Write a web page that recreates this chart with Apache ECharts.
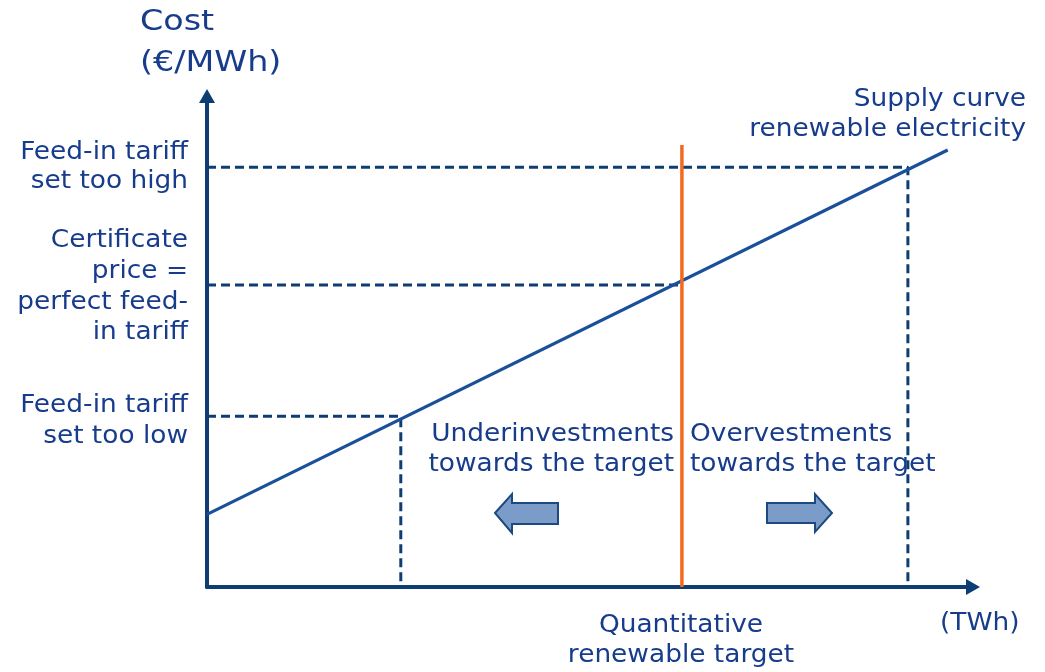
<!DOCTYPE html>
<html lang="en">
<head>
<meta charset="UTF-8">
<title>Supply curve renewable electricity</title>
<style>
  html, body { margin: 0; padding: 0; background: #fff; }
  #chart { width: 1045px; height: 672px; }
</style>
</head>
<body>
<div id="chart"></div>
<script src="https://cdn.jsdelivr.net/npm/echarts@6/dist/echarts.min.js"></script>
<script>
// values (x = quantity TWh, y = cost, both on a 0..100 scale)
var supplyX = [0, 96.7];
var supplyY = [14.8, 89.0];
var targetQ = 62;      // quantitative renewable target
var lowQ = 25.3;       // quantity reached with too-low tariff
var highQ = 91.5;      // quantity reached with too-high tariff
var lowP = 34.8;       // feed-in tariff set too low
var fairP = 61.5;      // certificate price = perfect feed-in tariff
var highP = 85.5;      // feed-in tariff set too high
var targetTop = 90;

var navy = '#0e3d73';
var textColor = '#173c8c';
var font = '24px "DejaVu Sans"';

var chart = echarts.init(document.getElementById('chart'));

function label(x, y, text, align, extra, sx) {
  var o = {
    type: 'text',
    x: x,
    y: y,
    scaleX: sx || 1.1,
    silent: true,
    style: {
      text: text,
      font: font,
      fill: textColor,
      align: align,
      verticalAlign: 'middle',
      lineHeight: 30
    }
  };
  if (extra) {
    for (var k in extra) o.style[k] = extra[k];
  }
  return o;
}

function dashed(data) {
  return {
    type: 'line',
    data: data,
    symbol: 'none',
    silent: true,
    z: 1,
    lineStyle: { color: navy, width: 3, type: [9, 5] }
  };
}

var arrowFill = '#7b9cc8';
var arrowStroke = '#1b4a80';

var option = {
  animation: false,
  grid: { left: 207, top: 96, width: 766, height: 491 },
  xAxis: {
    type: 'value', min: 0, max: 100,
    axisLabel: { show: false }, axisTick: { show: false }, splitLine: { show: false },
    axisLine: {
      onZero: false,
      symbol: ['none', 'triangle'], symbolSize: [16, 14],
      lineStyle: { color: navy, width: 4 }
    }
  },
  yAxis: {
    type: 'value', min: 0, max: 100,
    axisLabel: { show: false }, axisTick: { show: false }, splitLine: { show: false },
    axisLine: {
      show: true, onZero: false,
      symbol: ['none', 'triangle'], symbolSize: [16, 14],
      lineStyle: { color: navy, width: 4 }
    }
  },
  series: [
    dashed([[0, highP], [highQ, highP], [highQ, 0]]),
    dashed([[0, fairP], [targetQ, fairP]]),
    dashed([[0, lowP], [lowQ, lowP], [lowQ, 0]]),
    {
      type: 'line',
      data: supplyX.map(function (x, i) { return [x, supplyY[i]]; }),
      symbol: 'none',
      silent: true,
      z: 2,
      lineStyle: { color: '#1a4f9a', width: 3.2 }
    },
    {
      type: 'line',
      data: [[targetQ, 0], [targetQ, targetTop]],
      symbol: 'none',
      silent: true,
      z: 3,
      lineStyle: { color: '#f26a1e', width: 3.5 }
    }
  ],
  graphic: [
    label(140, 43, 'Cost\n(€/MWh)', 'left', { font: '29px "DejaVu Sans"', lineHeight: 41 }, 1.15),
    label(188, 167.5, 'Feed-in tariff\nset too high', 'right', { lineHeight: 29 }),
    label(188, 287, 'Certificate\nprice =\nperfect feed-\nin tariff', 'right', { lineHeight: 30.7 }),
    label(188, 421, 'Feed-in tariff\nset too low', 'right', { lineHeight: 31 }),
    label(1026, 115, 'Supply curve\nrenewable electricity', 'right'),
    label(674, 450, 'Underinvestments\ntowards the target', 'right'),
    label(690, 450, 'Overvestments\ntowards the target', 'left'),
    label(681, 641, 'Quantitative\nrenewable target', 'center'),
    label(940, 624, '(TWh)', 'left'),
    {
      type: 'polygon',
      silent: true,
      shape: { points: [[495, 513], [512, 494], [512, 503], [558, 503], [558, 524], [512, 524], [512, 533]] },
      style: { fill: arrowFill, stroke: arrowStroke, lineWidth: 2 }
    },
    {
      type: 'polygon',
      silent: true,
      shape: { points: [[767, 503], [815, 503], [815, 494], [832, 513], [815, 532], [815, 523], [767, 523]] },
      style: { fill: arrowFill, stroke: arrowStroke, lineWidth: 2 }
    }
  ]
};

chart.setOption(option);
</script>
</body>
</html>
